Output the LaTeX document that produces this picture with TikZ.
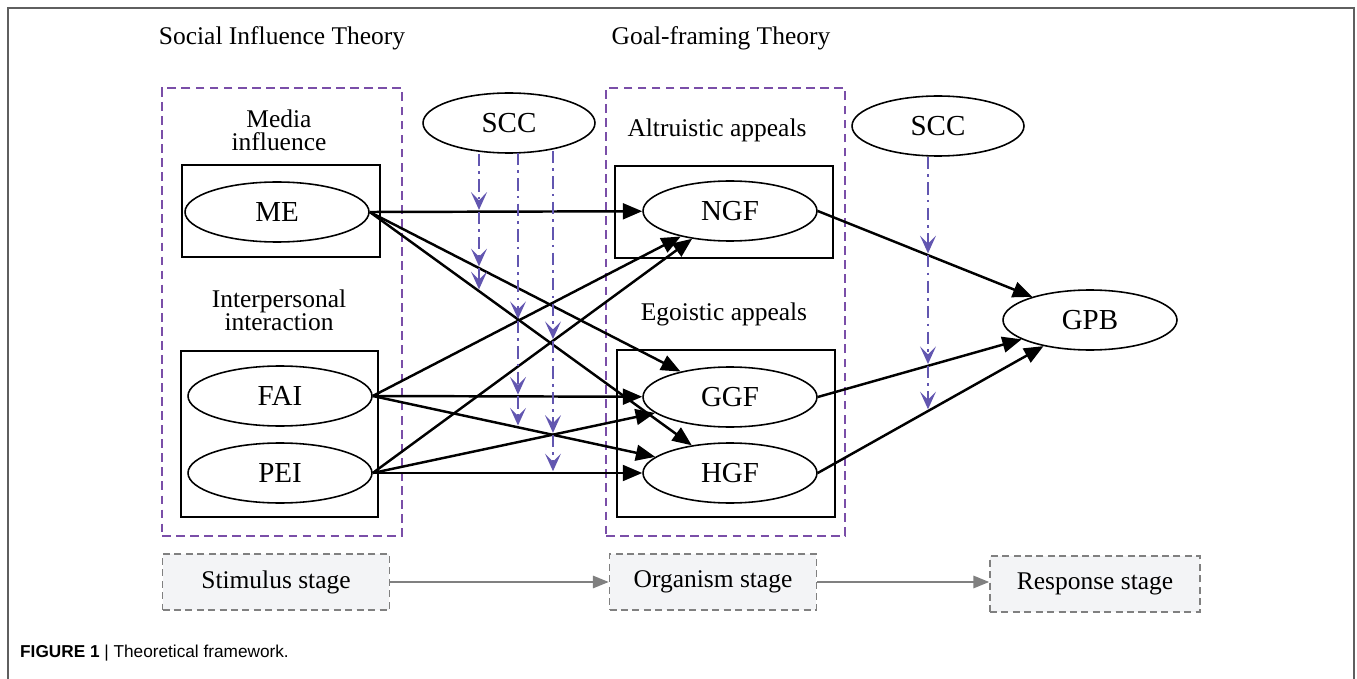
\documentclass[tikz,border=0pt]{standalone}
\usepackage{fontspec}
\setmainfont{Liberation Serif}
\newfontfamily\capfont{Liberation Sans}
\usepackage{tikz}
\usetikzlibrary{shapes.geometric,arrows.meta,positioning,intersections}
\definecolor{groupviolet}{RGB}{122,78,168}
\definecolor{modpurple}{RGB}{98,86,176}
\definecolor{stagegray}{RGB}{128,128,128}
\definecolor{stagefill}{RGB}{243,244,246}
\definecolor{framegray}{RGB}{95,95,95}
\tikzset
{
  construct/.style = {ellipse, draw=black, line width=0.9pt, minimum width=3.68cm, minimum height=1.2cm, inner sep=0pt, font=\fontsize{16.5}{18}\selectfont},
  blockbox/.style  = {rectangle, draw=black, line width=1.1pt, inner sep=0pt},
  groupbox/.style  = {rectangle, draw=groupviolet, dash pattern=on 5pt off 3pt, line width=1pt, inner sep=0pt},
  heading/.style   = {align=center, font=\fontsize{14.5}{13}\selectfont},
  stagebox/.style  = {rectangle, draw=stagegray, fill=stagefill, dash pattern=on 4pt off 2.5pt, line width=0.9pt, minimum height=1.12cm, inner sep=0pt, font=\fontsize{14.5}{16}\selectfont},
  link/.style      = {->, draw=black, line width=1.4pt},
  modlink/.style   = {-{Stealth[length=10pt,width=9pt,inset=4.5pt]}, draw=modpurple, line width=1.4pt, dash pattern=on 7pt off 3pt on 1.5pt off 3pt, shorten >=1pt},
  stagelink/.style = {-{Triangle[length=9pt,width=7pt]}, draw=stagegray, line width=1.2pt}
}

\begin{document}
\begin{tikzpicture}[x=0.02cm, y=-0.02cm, >={Triangle[length=11pt,width=9pt]}]
            \useasboundingbox (0,0) rectangle (1357,679);
            \draw[framegray, line width=0.8pt] (8,679) -- (8,8) -- (1354,8) -- (1354,679);

            \node [heading] (sit) at (282,38) {Social Influence Theory};
            \node [heading] (gft) at (721,38) {Goal-framing Theory};

            \node [groupbox, minimum width=4.8cm, minimum height=8.96cm] (stimgrp) at (282,312) {};
            \node [groupbox, minimum width=4.78cm, minimum height=8.96cm] (orggrp) at (725.5,312) {};

            \node [blockbox, minimum width=3.96cm, minimum height=1.84cm] (mediabox) at (281,211) {};
            \node [blockbox, minimum width=3.94cm, minimum height=3.32cm] (interbox) at (279.5,434) {};
            \node [blockbox, minimum width=4.36cm, minimum height=1.84cm] (altrubox) at (724,212) {};
            \node [blockbox, minimum width=4.36cm, minimum height=3.34cm] (egobox) at (726,433.5) {};

            \node [heading] (mediainf) at (279,130) {Media\\influence};
            \node [heading] (interp) at (279,310) {Interpersonal\\interaction};
            \node [heading] (altru) at (717,130) {Altruistic appeals};
            \node [heading] (egoist) at (724,314) {Egoistic appeals};

            \node [construct] (ME) at (277,212) {ME};
            \node [construct] (FAI) at (280,396) {FAI};
            \node [construct] (PEI) at (280,473) {PEI};
            \node [construct, minimum width=3.44cm] (SCCa) at (509,123) {SCC};
            \node [construct, minimum width=3.44cm] (SCCb) at (938,126) {SCC};
            \node [construct, minimum width=3.48cm] (NGF) at (730,211) {NGF};
            \node [construct, minimum width=3.48cm] (GGF) at (730,397) {GGF};
            \node [construct, minimum width=3.48cm] (HGF) at (730,473) {HGF};
            \node [construct, minimum width=3.48cm] (GPB) at (1090,320) {GPB};

            \draw [link, name path=mengf] (ME.east) -- (NGF);
            \draw [link, name path=meggf] (ME.east) -- (GGF);
            \draw [link, name path=mehgf] (ME.east) -- (HGF);
            \draw [link, name path=faingf] (FAI.east) -- (NGF);
            \draw [link, name path=faiggf] (FAI.east) -- (GGF);
            \draw [link, name path=faihgf] (FAI.east) -- (HGF);
            \draw [link, name path=peingf] (PEI.east) -- (NGF);
            \draw [link, name path=peiggf] (PEI.east) -- (GGF);
            \draw [link, name path=peihgf] (PEI.east) -- (HGF);
            \draw [link, name path=ngfgpb] (NGF.east) -- (GPB);
            \draw [link, name path=ggfgpb] (GGF.east) -- (GPB);
            \draw [link, name path=hgfgpb] (HGF.east) -- (GPB);

            \coordinate (ma) at ([xshift=-0.6cm]SCCa.south);
            \coordinate (mb) at ([xshift=0.18cm,yshift=0.02cm]SCCa.south);
            \coordinate (mc) at ([xshift=0.88cm,yshift=0.06cm]SCCa.south);
            \coordinate (md) at ([xshift=-0.2cm]SCCb.south);
            \path [name path=vla] (ma) -- ++(0,420);
            \path [name path=vlb] (mb) -- ++(0,420);
            \path [name path=vlc] (mc) -- ++(0,420);
            \path [name path=vld] (md) -- ++(0,420);
            \path [name intersections={of=vla and mengf, by=ia1}];
            \path [name intersections={of=vla and meggf, by=ia2}];
            \path [name intersections={of=vla and mehgf, by=ia3}];
            \path [name intersections={of=vlb and faingf, by=ib1}];
            \path [name intersections={of=vlb and faiggf, by=ib2}];
            \path [name intersections={of=vlb and faihgf, by=ib3}];
            \path [name intersections={of=vlc and peingf, by=ic1}];
            \path [name intersections={of=vlc and peiggf, by=ic2}];
            \path [name intersections={of=vlc and peihgf, by=ic3}];
            \path [name intersections={of=vld and ngfgpb, by=id1}];
            \path [name intersections={of=vld and ggfgpb, by=id2}];
            \path [name intersections={of=vld and hgfgpb, by=id3}];
            \draw [modlink] (ma) -- (ia1);
            \draw [modlink] (ia1) -- (ia2);
            \draw [modlink] (ia2) -- (ia3);
            \draw [modlink] (mb) -- (ib1);
            \draw [modlink] (ib1) -- (ib2);
            \draw [modlink] (ib2) -- (ib3);
            \draw [modlink] (mc) -- (ic1);
            \draw [modlink] (ic1) -- (ic2);
            \draw [modlink] (ic2) -- (ic3);
            \draw [modlink] (md) -- (id1);
            \draw [modlink] (id1) -- (id2);
            \draw [modlink] (id2) -- (id3);

            \node [stagebox, minimum width=4.54cm] (stimulus) at (276,582) {Stimulus stage};
            \node [stagebox, minimum width=4.14cm] (organism) at (713,582) {Organism stage};
            \node [stagebox, minimum width=4.2cm] (response) at (1095,584) {Response stage};
            \draw [stagelink] (stimulus.east) -- (organism.west);
            \draw [stagelink] (organism.east) -- (response.west |- organism.east);

            \node [anchor=west, font=\capfont\fontsize{9.8}{11}\selectfont] (caption) at (14,653) {\textbf{FIGURE 1} | Theoretical framework.};
\end{tikzpicture}
\end{document}
